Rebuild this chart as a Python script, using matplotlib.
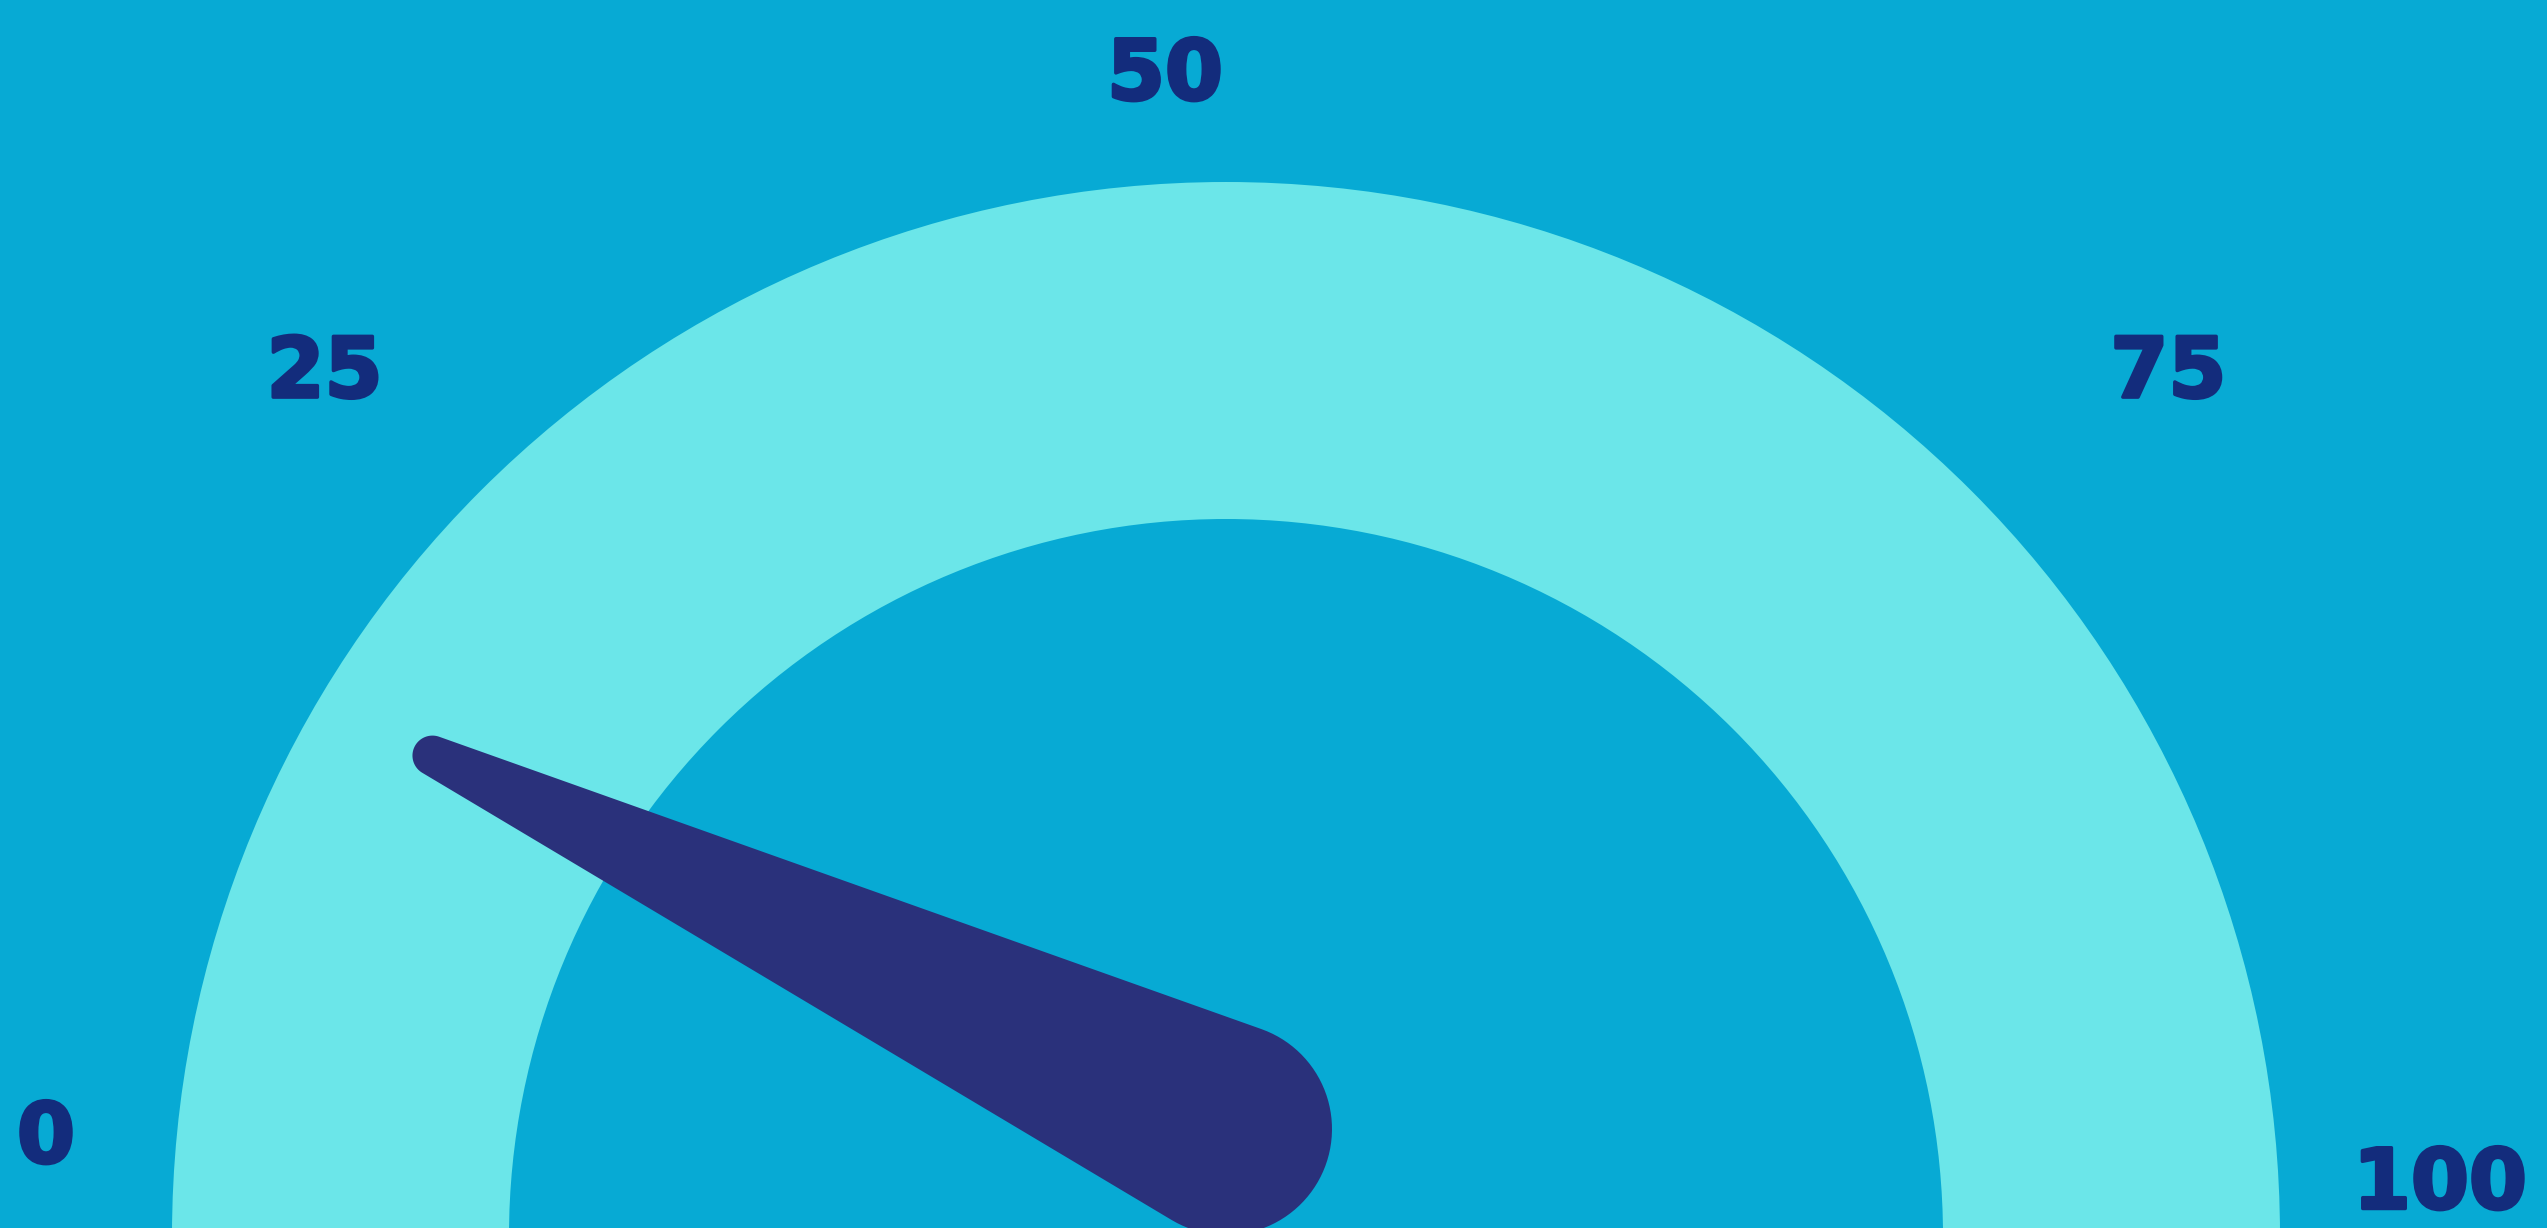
import numpy as np
import matplotlib

matplotlib.use("Agg")
import matplotlib.pyplot as plt
import matplotlib.patheffects as pe
from matplotlib.patches import Wedge, Polygon

# gauge scale and reading
scale_min = 0
scale_max = 100
tick_values = [0, 25, 50, 75, 100]
tick_labels = ["0", "25", "50", "75", "100"]
needle_value = 14

BG = "#07aad4"
ARC = "#6be6e9"
NEEDLE = "#2a317b"
TEXT = "#132c7c"

W, H = 2547, 1228
cx, cy = 1226, 1236          # arc centre in pixel units (just below the frame)
r_out, r_in = 1054, 717
hub = (0.0, 107.0)           # needle pivot, relative to arc centre
hub_r, tip_r = 106, 20
needle_len = 877
label_r = 1180

# small hand nudges for the tick labels
label_nudge = {"0": (0, -10), "25": (-67, -79), "50": (-61, -127),
               "75": (108, -79), "100": (34, -56)}


def value_to_angle(v):
    return np.pi * (1 - (v - scale_min) / (scale_max - scale_min))


def needle_shape(theta, length, R, r, n=60):
    phi = np.arccos((R - r) / length)
    tip = np.array([hub[0] + length * np.cos(theta), hub[1] + length * np.sin(theta)])
    a_back = np.linspace(theta + phi, theta + 2 * np.pi - phi, n)
    a_front = np.linspace(theta - phi, theta + phi, n)
    back = np.c_[hub[0] + R * np.cos(a_back), hub[1] + R * np.sin(a_back)]
    front = np.c_[tip[0] + r * np.cos(a_front), tip[1] + r * np.sin(a_front)]
    return np.vstack([back, front])


fig = plt.figure(figsize=(W / 100, H / 100), dpi=100, facecolor=BG)
ax = fig.add_axes([0, 0, 1, 1])
ax.set_facecolor(BG)
ax.set_xlim(-cx, W - cx)
ax.set_ylim(cy - H, cy)
ax.set_aspect("equal")
ax.axis("off")

ax.add_patch(Wedge((0, 0), r_out, 0, 180, width=r_out - r_in, facecolor=ARC, edgecolor="none"))

ax.add_patch(Polygon(needle_shape(value_to_angle(needle_value), needle_len, hub_r, tip_r),
                     closed=True, facecolor=NEEDLE, edgecolor="none", zorder=3))

for v, lab in zip(tick_values, tick_labels):
    t = value_to_angle(v)
    dx, dy = label_nudge[lab]
    x = hub[0] + label_r * np.cos(t) + dx
    y = hub[1] + label_r * np.sin(t) + dy
    ax.text(x, y, lab, ha="center", va="center", fontsize=60, fontweight="bold",
            family="DejaVu Sans", color=TEXT,
            path_effects=[pe.withStroke(linewidth=2.5, foreground=TEXT)])

fig.savefig("out.png", dpi=100, facecolor=BG)
